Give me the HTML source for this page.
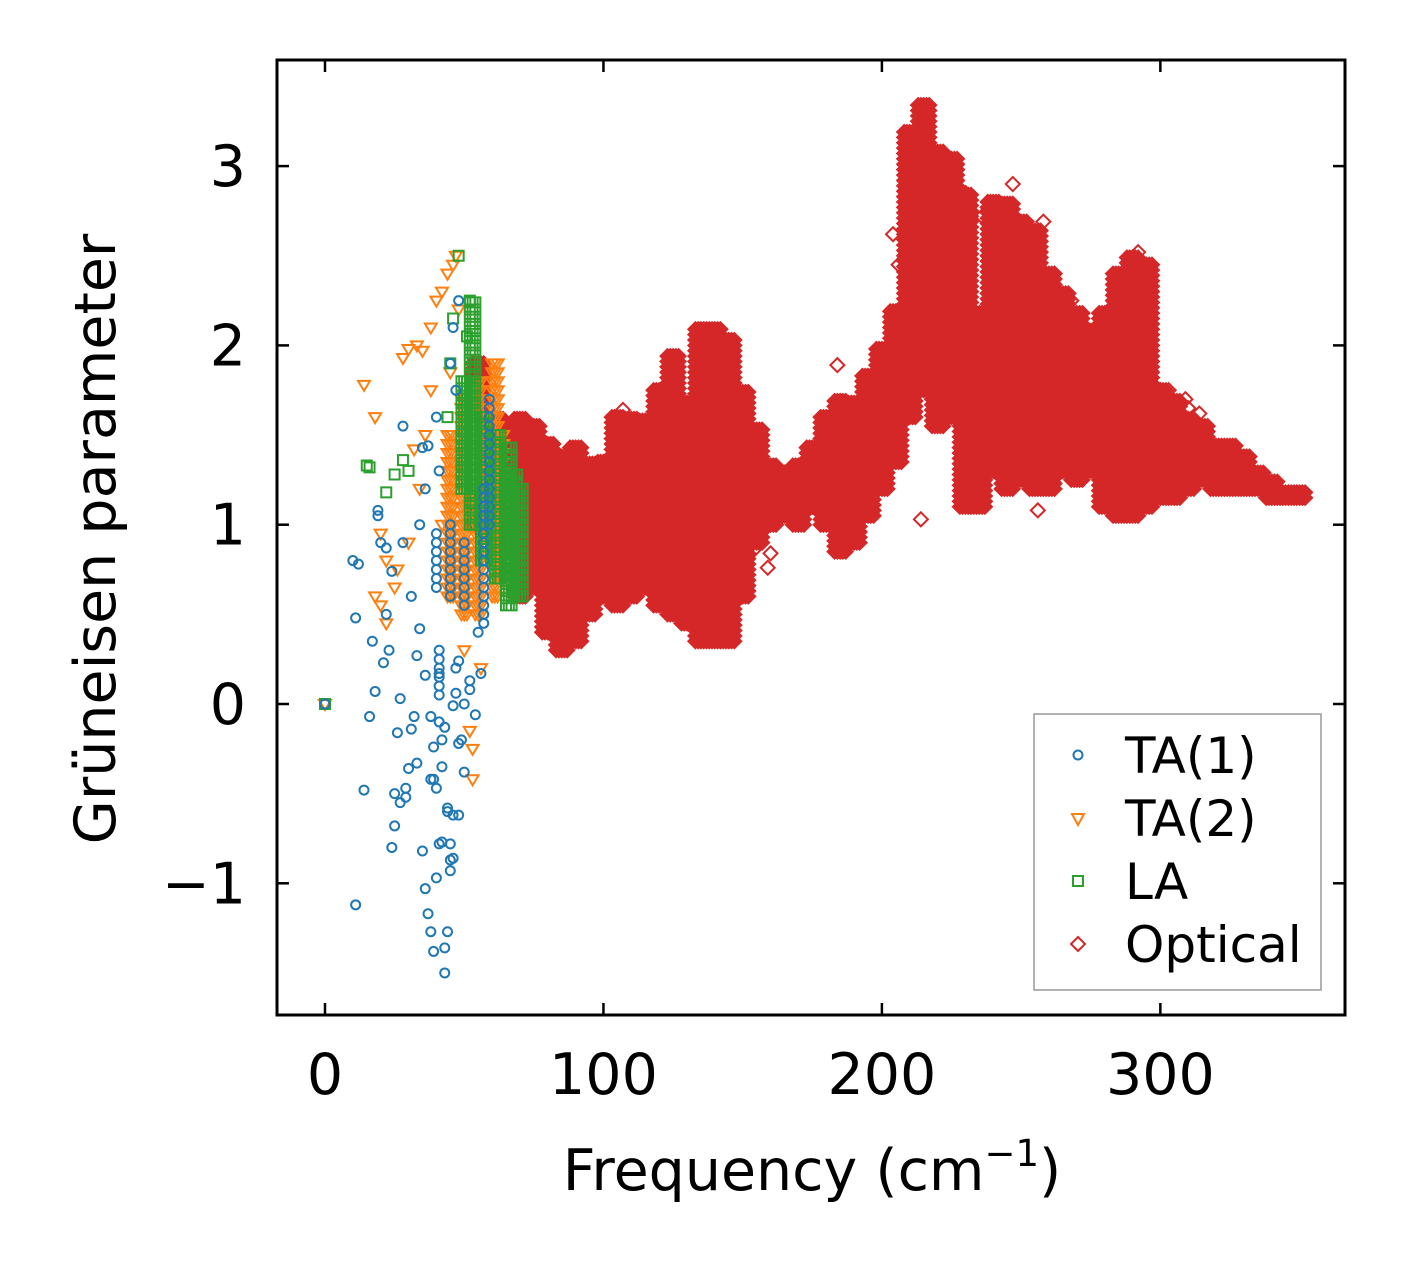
<!DOCTYPE html>
<html><head><meta charset="utf-8"><style>
body{margin:0;background:#fff;}
svg text{font-family:"DejaVu Sans","Liberation Sans",sans-serif;fill:#000;}
</style></head><body>
<svg id="chart" width="1406" height="1264" xmlns="http://www.w3.org/2000/svg">
<rect x="0" y="0" width="1406" height="1264" fill="#fff"/>
<g id="marks"></g>
<g id="axes"></g>
<text x="812" y="1190" font-size="57" text-anchor="middle">Frequency (cm<tspan font-size="37" dy="-24">−1</tspan><tspan dy="24">)</tspan></text>
<text transform="translate(115,539) rotate(-90)" font-size="57" text-anchor="middle">Grüneisen parameter</text>
<g>
<rect x="1034" y="714" width="287" height="276" fill="#fff" stroke="#999" stroke-width="1.5"/>
<circle cx="1078" cy="755" r="4.5" fill="none" stroke="#1f77b4" stroke-width="2"/>
<text x="1125" y="773" font-size="50">TA(1)</text>
<path d="M1072,814 L1084,814 L1078,825 Z" fill="none" stroke="#ff7f0e" stroke-width="2"/>
<text x="1125" y="836" font-size="50">TA(2)</text>
<rect x="1073" y="876" width="10" height="10" fill="none" stroke="#2ca02c" stroke-width="2"/>
<text x="1125" y="899" font-size="50">LA</text>
<path d="M1078,937 L1085,944 L1078,951 L1071,944 Z" fill="none" stroke="#d62728" stroke-width="2"/>
<text x="1125" y="962" font-size="50">Optical</text>
</g>
</svg>
<script>
// Optical bands: [frequency, lower gamma, upper gamma]
const opticalBands = [[55,1.0,1.9],[62,0.9,1.6],[70,0.6,1.6],[75,0.65,1.55],[80,0.4,1.45],[85,0.3,1.4],[90,0.35,1.45],[95,0.5,1.35],[100,0.6,1.35],[105,0.55,1.6],[110,0.6,1.6],[115,0.65,1.6],[120,0.55,1.75],[125,0.5,1.95],[130,0.45,1.7],[135,0.35,2.1],[140,0.35,2.1],[145,0.35,2.05],[150,0.6,1.75],[155,0.9,1.55],[160,1.0,1.35],[165,1.05,1.3],[170,1.0,1.35],[175,1.1,1.45],[180,1.0,1.6],[185,0.85,1.7],[190,0.9,1.7],[195,1.05,1.85],[200,1.2,2.0],[205,1.35,2.2],[210,1.6,3.2],[215,1.75,3.35],[220,1.55,3.1],[225,1.6,3.05],[230,1.1,2.85],[235,1.1,2.2],[240,1.3,2.8],[245,1.2,2.8],[250,1.25,2.7],[255,1.2,2.65],[260,1.2,2.4],[265,1.3,2.3],[270,1.25,2.2],[275,1.3,2.1],[280,1.1,2.2],[285,1.05,2.4],[290,1.05,2.5],[295,1.1,2.45],[300,1.15,1.75],[305,1.15,1.7],[310,1.2,1.6],[315,1.25,1.55],[320,1.2,1.45],[325,1.2,1.45],[330,1.2,1.4],[335,1.2,1.3],[340,1.15,1.25],[345,1.15,1.2],[350,1.15,1.2]];
const opticalFreq = [184,204,206,214,247,256,258,230,236,262,268,292,303,309,310,314,160,159,154,107,146];
const opticalGamma = [1.89,2.62,2.45,1.03,2.9,1.08,2.69,2.85,2.72,2.4,2.25,2.52,1.75,1.7,1.65,1.62,0.84,0.76,0.86,1.64,0.55];
// LA
const laBands = [[50,1.2,1.8],[53,1.0,2.25],[57,0.8,1.6],[62,0.7,1.5],[66,0.55,1.45],[68,0.6,1.3],[70,0.6,1.2]];
const laFreq = [0,15,16,22,25,28,30,48,46,52,51,45,44];
const laGamma = [0,1.33,1.32,1.18,1.28,1.36,1.3,2.5,2.15,2.25,2.05,1.9,1.6];
// TA(2)
const ta2Bands = [[45,0.6,1.5],[50,0.5,1.7],[55,0.5,1.8],[61,0.6,1.9],[63,0.7,1.5]];
const ta2Freq = [0,14,18,20,22,25,28,30,33,35,38,40,42,44,46,47,36,32,38,45,48,53,53,52,20,22,18,26,30,34,42,50,56];
const ta2Gamma = [0,1.78,1.6,0.95,0.8,0.65,1.93,1.98,2.0,1.97,2.1,2.25,2.3,2.4,2.45,2.5,1.5,1.42,1.75,1.85,2.2,-0.25,-0.42,-0.15,0.55,0.45,0.6,0.75,0.9,1.2,1.0,0.3,0.2];
// TA(1)
const ta1Bands = [[59,1.0,1.7],[57,0.45,1.2],[45,0.6,1.0],[40,0.65,0.95],[50,0.55,0.9],[41,0.05,0.3]];
const ta1Freq = [0,11,10,12,14,16,17,18,19,20,21,22,23,24,25,26,27,28,29,30,31,32,33,34,35,36,37,38,39,40,41,42,43,44,45,46,47,48,49,50,52,54,56,11,25,24,27,29,31,33,36,37,38,39,40,41,42,43,44,45,46,47,48,35,38,39,40,41,42,43,44,45,46,48,50,52,55,57,36,41,28,34,22,19,48,46,47,45];
const ta1Gamma = [0,-1.12,0.8,0.78,-0.48,-0.07,0.35,0.07,1.05,0.9,0.23,0.5,0.3,0.74,-0.68,-0.16,0.03,1.55,-0.52,-0.36,0.6,-0.07,0.27,0.42,1.43,0.16,1.44,-0.42,-0.24,1.6,0.17,-0.77,-1.5,-0.58,-0.87,-0.01,0.2,-0.62,-0.2,-0.38,0.08,-0.06,0.17,0.48,-0.5,-0.8,-0.55,-0.47,-0.14,-0.33,-1.03,-1.17,-1.27,-1.38,-0.97,-0.78,-0.35,-1.36,-1.27,-0.93,-0.62,0.06,0.24,-0.82,-0.07,-0.42,-0.47,-0.1,-0.2,-0.13,-0.6,-0.78,-0.86,-0.22,0.0,0.13,0.4,0.5,1.2,1.3,0.9,1.0,0.87,1.08,2.25,2.1,1.75,1.9];

const X0=325, XS=2.7845, Y0=704, YS=179.3;
const xs = v => X0 + v*XS;
const ys = v => Y0 - v*YS;
const NS='http://www.w3.org/2000/svg';
const marks=document.getElementById('marks');

function shape(kind,cx,cy){
  if(kind==='circle') return `M${cx-4.5},${cy}a4.5,4.5 0 1,0 9,0a4.5,4.5 0 1,0 -9,0`;
  if(kind==='tri') return `M${cx-6},${cy-4}L${cx+6},${cy-4}L${cx},${cy+6}Z`;
  if(kind==='square') return `M${cx-5},${cy-5}h10v10h-10Z`;
  return `M${cx},${cy-7}L${cx+7},${cy}L${cx},${cy+7}L${cx-7},${cy}Z`;
}
function drawSeries(name,color,kind,bands,fx,gy,spread,step){
  const g=document.createElementNS(NS,'g');
  
  
  bands.forEach(b=>{
    let d='';
    for(let k=-spread;k<=spread;k++){
      for(let v=b[1]; v<=b[2]+1e-9; v+=step){
        d+=shape(kind, xs(b[0]+k*1.0), ys(v));
      }
    }
    const p=document.createElementNS(NS,'path');
    
    
    p.setAttribute('d',d);p.setAttribute('fill','none');p.setAttribute('stroke',color);p.setAttribute('stroke-width','2');
    g.appendChild(p);
  });
  fx.forEach((f,i)=>{
    const p=document.createElementNS(NS,'path');
    
    
    p.setAttribute('d',shape(kind,xs(f),ys(gy[i])));p.setAttribute('fill','none');p.setAttribute('stroke',color);p.setAttribute('stroke-width','2');
    g.appendChild(p);
  });
  marks.appendChild(g);
}
drawSeries('optical','#d62728','diamond',opticalBands,opticalFreq,opticalGamma,2,0.03);
drawSeries('ta2','#ff7f0e','tri',ta2Bands,ta2Freq,ta2Gamma,1,0.05);
drawSeries('la','#2ca02c','square',laBands,laFreq,laGamma,1,0.04);
drawSeries('ta1','#1f77b4','circle',ta1Bands,ta1Freq,ta1Gamma,0,0.05);

const xTicks=[0,100,200,300];
const yTicks=[-1,0,1,2,3];
const yTickLabels=['−1','0','1','2','3'];
const axes=document.getElementById('axes');
const L=277,R=1345,T=60,B=1015;
let a=`<rect x="${L}" y="${T}" width="${R-L}" height="${B-T}" fill="none" stroke="#000" stroke-width="3"/>`;
xTicks.forEach(t=>{const x=xs(t);
 a+=`<line x1="${x}" y1="${B}" x2="${x}" y2="${B-12}" stroke="#000" stroke-width="2.5"/><line x1="${x}" y1="${T}" x2="${x}" y2="${T+12}" stroke="#000" stroke-width="2.5"/><text x="${x}" y="1094" font-size="57" text-anchor="middle">${t}</text>`;});
yTicks.forEach((t,i)=>{const y=ys(t);
 a+=`<line x1="${L}" y1="${y}" x2="${L+12}" y2="${y}" stroke="#000" stroke-width="2.5"/><line x1="${R}" y1="${y}" x2="${R-12}" y2="${y}" stroke="#000" stroke-width="2.5"/><text x="246" y="${y+20}" font-size="57" text-anchor="end">${yTickLabels[i]}</text>`;});
axes.innerHTML=a;
</script>
</body></html>
